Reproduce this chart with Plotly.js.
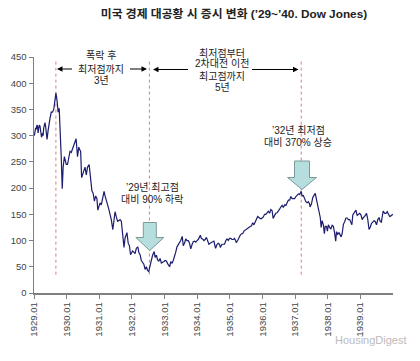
<!DOCTYPE html>
<html>
<head>
<meta charset="utf-8">
<script src="https://cdn.plot.ly/plotly-3.0.1.min.js"></script>
<style>html,body{margin:0;padding:0;background:#fff;}#chart{width:420px;height:361px;}</style>
</head>
<body>
<div id="chart"></div>
<script>
// Dow Jones Industrial Average, 1929-1939 (approximate)
const dates = [
"1929-01-05","1929-01-12","1929-01-19","1929-01-26","1929-02-02","1929-02-09","1929-02-16","1929-02-23","1929-03-02","1929-03-09","1929-03-16","1929-03-26","1929-04-06","1929-04-13","1929-04-20","1929-05-04","1929-05-11","1929-05-18","1929-05-27","1929-06-08","1929-06-15","1929-06-29","1929-07-13","1929-07-27","1929-08-10","1929-08-24","1929-09-03","1929-09-14","1929-09-21","1929-09-28","1929-10-10","1929-10-19","1929-10-26","1929-11-02","1929-11-13","1929-11-23","1929-12-07","1929-12-14","1929-12-28",
"1930-01-11","1930-01-25","1930-02-08","1930-02-22","1930-03-08","1930-03-22","1930-04-05","1930-04-17","1930-05-03","1930-05-17","1930-05-31","1930-06-07","1930-06-18","1930-06-28","1930-07-12","1930-07-26","1930-08-09","1930-08-23","1930-09-10","1930-09-27","1930-10-11","1930-10-25","1930-11-08","1930-11-22","1930-12-06","1930-12-16","1930-12-27",
"1931-01-10","1931-01-24","1931-02-07","1931-02-24","1931-03-07","1931-03-21","1931-04-04","1931-04-18","1931-05-02","1931-05-16","1931-06-02","1931-06-13","1931-06-27","1931-07-11","1931-07-25","1931-08-08","1931-08-22","1931-09-05","1931-09-19","1931-10-05","1931-10-17","1931-11-07","1931-11-21","1931-12-05","1931-12-17","1931-12-31",
"1932-01-09","1932-01-23","1932-02-06","1932-02-20","1932-03-08","1932-03-19","1932-04-02","1932-04-16","1932-04-30","1932-05-14","1932-05-28","1932-06-11","1932-06-25","1932-07-08","1932-07-23","1932-08-06","1932-08-20","1932-09-07","1932-09-17","1932-10-01","1932-10-15","1932-10-29","1932-11-12","1932-11-26","1932-12-10","1932-12-24",
"1933-01-07","1933-01-21","1933-02-04","1933-02-18","1933-02-27","1933-03-11","1933-03-25","1933-04-08","1933-04-22","1933-05-06","1933-05-20","1933-06-03","1933-06-17","1933-07-01","1933-07-18","1933-07-29","1933-08-12","1933-08-26","1933-09-09","1933-09-23","1933-10-07","1933-10-21","1933-11-04","1933-11-18","1933-12-02","1933-12-16","1933-12-30",
"1934-01-13","1934-01-27","1934-02-05","1934-02-17","1934-03-03","1934-03-17","1934-03-31","1934-04-14","1934-04-28","1934-05-12","1934-05-26","1934-06-09","1934-06-23","1934-07-07","1934-07-26","1934-08-11","1934-08-25","1934-09-08","1934-09-17","1934-10-06","1934-10-20","1934-11-03","1934-11-17","1934-12-01","1934-12-15","1934-12-29",
"1935-01-12","1935-01-26","1935-02-09","1935-02-23","1935-03-09","1935-03-14","1935-03-30","1935-04-13","1935-04-27","1935-05-11","1935-05-25","1935-06-08","1935-06-22","1935-07-06","1935-07-20","1935-08-03","1935-08-17","1935-08-31","1935-09-14","1935-09-28","1935-10-12","1935-10-26","1935-11-09","1935-11-23","1935-12-07","1935-12-21",
"1936-01-11","1936-01-25","1936-02-08","1936-02-22","1936-03-07","1936-03-21","1936-04-04","1936-04-18","1936-04-30","1936-05-16","1936-05-30","1936-06-13","1936-06-27","1936-07-11","1936-07-25","1936-08-08","1936-08-22","1936-09-05","1936-09-19","1936-10-03","1936-10-17","1936-10-31","1936-11-14","1936-11-28","1936-12-12","1936-12-26",
"1937-01-09","1937-01-23","1937-02-06","1937-02-20","1937-03-06","1937-03-10","1937-03-20","1937-04-03","1937-04-17","1937-05-01","1937-05-15","1937-05-29","1937-06-12","1937-06-17","1937-07-03","1937-07-17","1937-08-07","1937-08-14","1937-08-28","1937-09-11","1937-09-25","1937-10-09","1937-10-19","1937-10-30","1937-11-13","1937-11-24","1937-12-04","1937-12-18","1937-12-28",
"1938-01-08","1938-01-22","1938-02-05","1938-02-19","1938-03-05","1938-03-19","1938-03-31","1938-04-09","1938-04-23","1938-05-07","1938-05-21","1938-05-31","1938-06-11","1938-06-25","1938-07-09","1938-07-23","1938-08-06","1938-08-20","1938-09-03","1938-09-17","1938-09-28","1938-10-08","1938-10-22","1938-11-05","1938-11-12","1938-11-26","1938-12-10","1938-12-24",
"1939-01-07","1939-01-21","1939-02-04","1939-02-18","1939-03-04","1939-03-11","1939-03-25","1939-04-08","1939-04-22","1939-05-06","1939-05-20","1939-06-03","1939-06-17","1939-06-30","1939-07-15","1939-07-29","1939-08-12","1939-08-24","1939-09-09","1939-09-13","1939-09-30","1939-10-14","1939-10-28","1939-11-11","1939-11-25","1939-12-09","1939-12-23","1939-12-30"
];
const dow = [
300,308,315,312,320,318,305,315,320,318,310,297,305,300,315,325,318,305,293,310,320,333,345,345,350,375,381,370,360,345,352,323,299,258,199,240,260,253,245,
245,262,270,268,275,280,285,294,260,278,272,270,220,225,235,240,225,240,245,215,195,190,175,185,180,158,165,
172,168,180,194,185,178,170,160,150,140,121,135,155,145,137,138,140,137,115,87,105,115,95,90,73,78,
80,78,75,85,88,77,73,62,57,55,45,50,43,41,52,65,72,79,68,72,63,61,66,57,58,60,
62,61,56,52,50,60,57,62,73,78,88,92,95,100,108,90,95,103,100,100,95,84,92,98,99,97,100,
102,107,110,104,103,100,102,106,100,93,95,96,98,99,85,93,95,93,87,93,93,93,100,103,100,104,
104,102,102,104,99,96,100,107,110,113,113,118,120,121,124,126,127,128,134,130,135,141,146,144,142,142,
145,150,150,153,156,152,159,157,142,148,152,153,158,160,164,167,163,168,167,173,177,177,184,180,180,180,
184,186,189,188,193,194,185,186,180,174,172,174,170,164,170,182,188,190,178,165,150,144,125,138,130,113,127,127,118,
130,125,122,129,127,114,99,117,112,115,111,107,113,131,136,143,143,140,140,135,130,149,152,156,158,148,150,152,
149,140,144,146,150,152,140,121,126,133,135,138,136,130,140,144,136,135,152,156,152,152,155,150,146,147,150,150
];
const tickDates = ["1929-01-01","1930-01-01","1931-01-01","1932-01-01","1933-01-01","1934-01-01","1935-01-01","1936-01-01","1937-01-01","1938-01-01","1939-01-01"];
const tickLabels = ["1929.01","1930.01","1931.01","1932.01","1933.01","1934.01","1935.01","1936.01","1937.01","1938.01","1939.01"];
// Key events: 1929 peak, 1932 bottom, 1937 pre-war peak
const eventDates = ["1929-09-03","1932-07-15","1937-03-10"];

const titleText = "미국 경제 대공황 시 증시 변화 (’29~’40. Dow Jones)";

// layout helpers: pixel -> paper
const L = 34, T = 57, W = 359, H = 236;
const fx = p => (p - L) / W;
const fy = p => (T + H - p) / H;
const FONT = "Liberation Sans, Arial, Noto Sans CJK KR, sans-serif";

function downArrow(cx, tipY, shaftW, headW, shaftLen, headLen) {
  const top = tipY - headLen - shaftLen, base = tipY - headLen;
  const pts = [
    [cx - shaftW/2, top], [cx + shaftW/2, top], [cx + shaftW/2, base],
    [cx + headW/2, base], [cx, tipY], [cx - headW/2, base], [cx - shaftW/2, base]
  ];
  return 'M' + pts.map(p => fx(p[0]) + ',' + fy(p[1])).join('L') + 'Z';
}

const shapes = eventDates.map(d => ({
  type: 'line', xref: 'x', yref: 'y', x0: d, x1: d, y0: 35, y1: 445,
  line: {color: '#e07b7b', width: 1, dash: 'dot'}, layer: 'below'
}));
shapes.push({type: 'path', xref: 'paper', yref: 'paper', path: downArrow(149.8, 250.5, 13, 28, 15, 13),
  fillcolor: '#b6dede', line: {color: '#7c9999', width: 1}});
shapes.push({type: 'path', xref: 'paper', yref: 'paper', path: downArrow(302, 189.5, 15, 29, 16.5, 12),
  fillcolor: '#b6dede', line: {color: '#7c9999', width: 1}});

function txt(s, px, py, size, color, anchor) {
  return {text: s, xref: 'paper', yref: 'paper', x: fx(px), y: fy(py), showarrow: false,
    xanchor: anchor || 'center', yanchor: 'middle', font: {family: FONT, size: size || 10, color: color || '#222'}};
}
function arr(tipX, tailX, py) {
  return {text: ' ', xref: 'paper', yref: 'paper', x: fx(tipX), y: fy(py), ax: tailX - tipX, ay: 0,
    showarrow: true, arrowhead: 2, arrowsize: 1, arrowwidth: 1.1, arrowcolor: '#000', standoff: 0, startstandoff: 0,
    font: {size: 2}};
}

const annotations = [
  txt('폭락 후', 101, 55), txt('최저점까지', 101, 69), txt('3년', 101, 81),
  arr(57, 74, 69), arr(147, 128, 69),
  txt('최저점부터', 222, 53), txt('2차대전 이전', 222, 63), txt('최고점까지', 222, 76), txt('5년', 222, 87),
  arr(153, 190, 69.5), arr(298.5, 250, 69.5),
  txt('’29년 최고점', 152, 187), txt('대비 90% 하락', 152, 198.5),
  txt('’32년 최저점', 298, 130), txt('대비 370% 상승', 298, 142),
  txt('HousingDigest', 409, 340, 11, '#bbbbbb', 'right')
];

const trace = {
  x: dates, y: dow, type: 'scatter', mode: 'lines',
  line: {color: '#1c1c6e', width: 1.2}, hoverinfo: 'x+y'
};

const layout = {
  width: 420, height: 361,
  margin: {l: L, r: 420 - L - W, t: T, b: 361 - T - H},
  paper_bgcolor: '#fff', plot_bgcolor: '#fff',
  showlegend: false,
  font: {family: FONT, color: '#333'},
  title: {text: titleText, x: 234/420, xanchor: 'center', y: 1 - 14/361, yanchor: 'middle', yref: 'container',
    font: {family: FONT, size: 11.8, weight: 'bold', color: '#222'}},
  xaxis: {
    type: 'date', range: ['1929-01-01', '1940-01-01'], tickmode: 'array',
    tickvals: tickDates, ticktext: tickLabels, tickangle: -90,
    ticks: 'outside', ticklen: 4, tickcolor: '#808080', tickwidth: 1,
    showline: true, linecolor: '#808080', linewidth: 1.5, showgrid: false, zeroline: false,
    tickfont: {family: FONT, size: 9.5, color: '#444'}
  },
  yaxis: {
    range: [0, 450], dtick: 50, ticks: 'outside', ticklen: 4, tickcolor: '#808080', tickwidth: 1,
    showline: true, linecolor: '#808080', linewidth: 1.5, showgrid: false, zeroline: false,
    tickfont: {family: FONT, size: 9.5, color: '#444'}
  },
  shapes: shapes,
  annotations: annotations
};

Plotly.newPlot('chart', [trace], layout, {displayModeBar: false, staticPlot: true});
</script>
</body>
</html>
